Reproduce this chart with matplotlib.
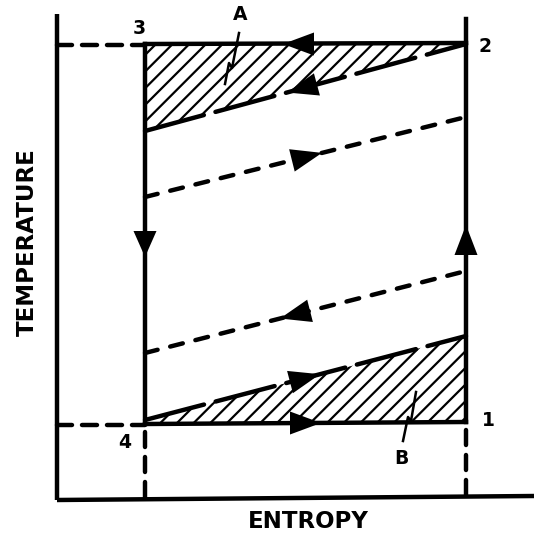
import matplotlib.pyplot as plt
import numpy as np

plt.rcParams['font.family'] = ['DejaVu Sans']
plt.rcParams['lines.scale_dashes'] = False
plt.rcParams['hatch.linewidth'] = 1.6

# state points of the cycle (entropy, temperature), drawing units
state_labels = ['1', '2', '3', '4']
state_s = [466, 466, 145, 145]
state_T = [422, 43, 44, 424]

# sloped process lines: start (s0, T0) -> end (s1, T1)
slope_s0 = [145, 145, 145, 145]
slope_T0 = [131, 197, 353, 420]
slope_s1 = [466, 466, 466, 466]
slope_T1 = [44, 117, 271, 336]
slope_kind = ['long', 'short', 'short', 'long']
slope_dir = [-1, 1, -1, 1]          # arrow direction along entropy
slope_tip_s = [287, 322, 280, 320]  # where the arrow tip sits

# entropy / temperature frame
axis_s = [57, 534]
axis_T = [14, 500]


def arrow_head(ax, tip, direction, length=31, width=23):
    d = np.array(direction, float)
    d = d / np.hypot(*d)
    n = np.array([-d[1], d[0]])
    tip = np.array(tip, float)
    base = tip - d * length
    pts = np.array([tip, base + n * width / 2, base - n * width / 2])
    ax.fill(pts[:, 0], pts[:, 1], color='black', lw=0, zorder=6)


fig = plt.figure(figsize=(5.34, 5.38), dpi=100)
ax = fig.add_axes([0, 0, 1, 1])
ax.set_xlim(0, 534)
ax.set_ylim(538, 0)
ax.axis('off')

lw = 3.2
px = 0.72  # pixel -> points
short = (0, (13 * px, 13 * px))
longd = (0, (61 * px, 12 * px))
lead = (0, (15 * px, 10 * px))

# frame
ax.plot([axis_s[0], axis_s[0]], [axis_T[0], axis_T[1]], color='black', lw=lw, solid_capstyle='butt')
ax.plot([axis_s[0], axis_s[1]], [axis_T[1], axis_T[1] - 4], color='black', lw=lw, solid_capstyle='butt')

s1, s2, s3, s4 = state_s
T1, T2, T3, T4 = state_T

# hatched areas A and B
ax.fill([s3, s2, s2, s3], [T3, T2, slope_T1[0], slope_T0[0]],
        facecolor='none', edgecolor='black', hatch='//', lw=0, zorder=1)
ax.fill([s4, s1, s1, s4], [slope_T0[3], slope_T1[3], T1, T4],
        facecolor='none', edgecolor='black', hatch='//', lw=0, zorder=1)

# isotherms and isentropes of the cycle
ax.plot([s3, s2], [T3, T2], color='black', lw=lw, zorder=4)
ax.plot([s4, s1], [T4, T1], color='black', lw=lw, zorder=4)
ax.plot([s3, s4], [T3, T4], color='black', lw=lw, zorder=4)
ax.plot([s2, s1], [19, T1], color='black', lw=lw, zorder=4)

# projections to the axes
ax.plot([axis_s[0], s3], [T3 + 1, T3 + 1], color='black', lw=lw, ls=lead, dash_capstyle='round')
ax.plot([axis_s[0], s4], [T4 + 1, T4 + 1], color='black', lw=lw, ls=lead, dash_capstyle='round')
ax.plot([s4, s4], [T4 + 8, axis_T[1]], color='black', lw=lw, ls=lead, dash_capstyle='round')
ax.plot([s1, s1], [T1 + 8, axis_T[1] - 4], color='black', lw=lw, ls=lead, dash_capstyle='round')

# sloped process lines
for a, b, c, d, k, dr, tip in zip(slope_s0, slope_T0, slope_s1, slope_T1,
                                   slope_kind, slope_dir, slope_tip_s):
    style = longd if k == 'long' else short
    ax.plot([a, c], [b, d], color='black', lw=lw, ls=style, dash_capstyle='round', zorder=4)
    t_tip = b + (d - b) * (tip - a) / (c - a)
    arrow_head(ax, (tip, t_tip), (dr * (c - a), dr * (d - b)))

# arrows on the cycle
arrow_head(ax, (283, T3), (-1, 0))
arrow_head(ax, (321, T4 - 1), (1, 0))
arrow_head(ax, (s3, 257), (0, 1), length=26)
arrow_head(ax, (s2, 225), (0, -1), length=30)

# state numbers
label_off = [(22, -2), (19, 4), (-6, -16), (-20, 19)]
for lab, s, t, (dx, dy) in zip(state_labels, state_s, state_T, label_off):
    ax.text(s + dx, t + dy, lab, fontsize=13.5, fontweight='bold', ha='center', va='center')

# area labels with leaders
ax.text(240, 15, 'A', fontsize=13.5, fontweight='bold', ha='center', va='center')
ax.plot([239, 232, 229, 225], [33, 68, 63, 84], color='black', lw=1.8, zorder=5)
ax.text(401, 458, 'B', fontsize=13.5, fontweight='bold', ha='center', va='center')
ax.plot([403, 408, 411, 416], [441, 417, 421, 392], color='black', lw=1.8, zorder=5)

ax.text(308, 522, 'ENTROPY', fontsize=16.5, fontweight='bold', ha='center', va='center')
ax.text(27, 242, 'TEMPERATURE', fontsize=16.5, fontweight='bold', ha='center', va='center',
        rotation=90)

fig.savefig('out.png', dpi=100)
